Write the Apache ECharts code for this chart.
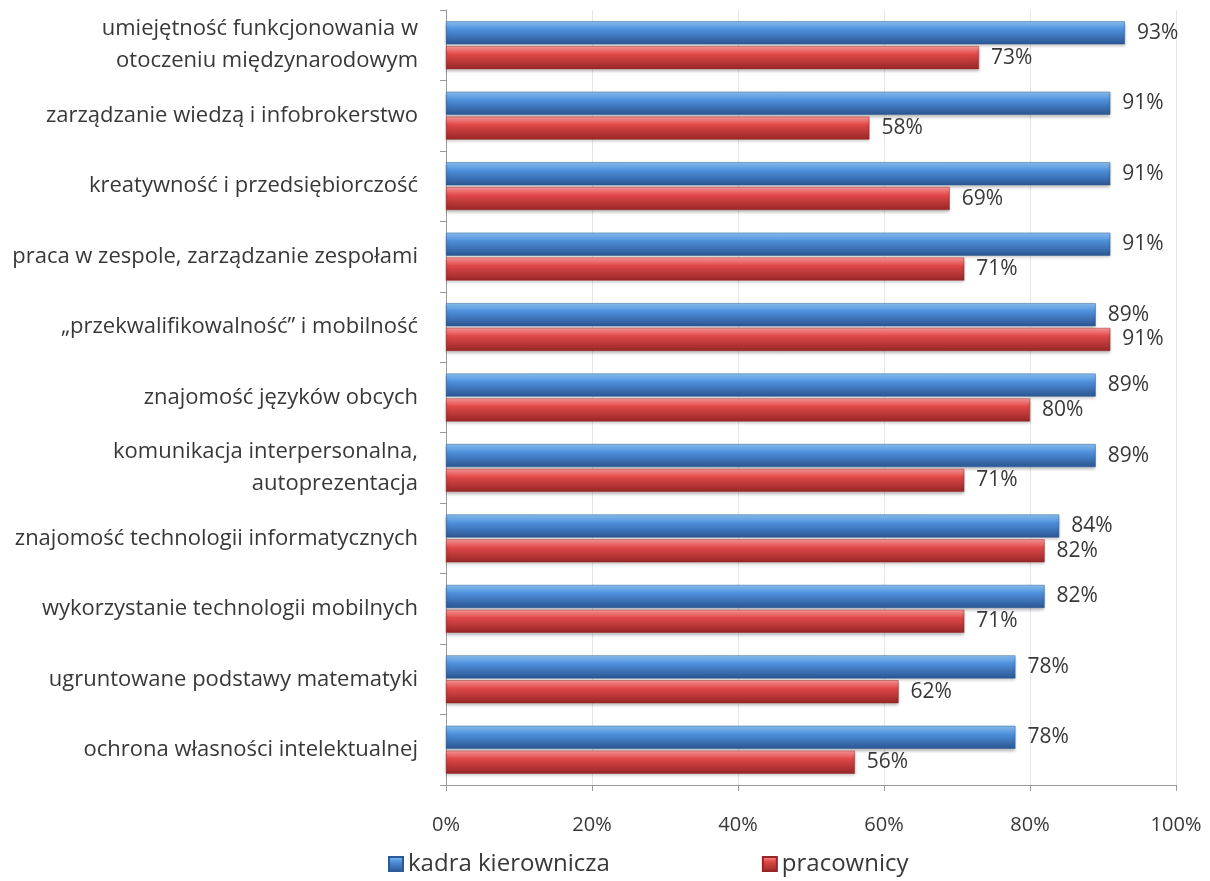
<!DOCTYPE html>
<html><head><meta charset="utf-8">
<script src="https://cdn.jsdelivr.net/npm/echarts@6/dist/echarts.min.js"></script>
<style>html,body{margin:0;padding:0;background:#fff}#c{width:1210px;height:881px}</style>
</head><body><div id="c"></div>
<script>
const categories = [
  "umiejętność funkcjonowania w\notoczeniu międzynarodowym",
  "zarządzanie wiedzą i infobrokerstwo",
  "kreatywność i przedsiębiorczość",
  "praca w zespole, zarządzanie zespołami",
  "„przekwalifikowalność” i mobilność",
  "znajomość języków obcych",
  "komunikacja interpersonalna,\nautoprezentacja",
  "znajomość technologii informatycznych",
  "wykorzystanie technologii mobilnych",
  "ugruntowane podstawy matematyki",
  "ochrona własności intelektualnej"
];
const kadra = [93, 91, 91, 91, 89, 89, 89, 84, 82, 78, 78];
const pracownicy = [73, 58, 69, 71, 91, 80, 71, 82, 71, 62, 56];
const seriesNames = ["kadra kierownicza", "pracownicy"];

const FONT = "Open Sans";
const TXT = '#383838';
const grad = (a, b, c) => new echarts.graphic.LinearGradient(0, 0, 0, 1, [
  {offset: 0, color: a}, {offset: 0.35, color: b}, {offset: 1, color: c}]);
const chart = echarts.init(document.getElementById('c'));
const lbl = {show: true, position: 'right', distance: 12, formatter: '{c}%',
  fontFamily: FONT, fontSize: 21, color: TXT};
chart.setOption({
  animation: false,
  grid: {left: 446, right: 34, top: 10, bottom: 96},
  xAxis: {type: 'value', min: 0, max: 100, interval: 20,
    axisLine: {show: true, lineStyle: {color: '#9a9a9a'}},
    axisTick: {show: true, length: 6, lineStyle: {color: '#9a9a9a'}},
    splitLine: {show: true, lineStyle: {color: '#e6e6e6'}},
    axisLabel: {formatter: '{value}%', fontFamily: FONT, fontSize: 20, color: TXT, margin: 30}},
  yAxis: {type: 'category', data: categories, inverse: true,
    axisLine: {show: true, lineStyle: {color: '#9a9a9a'}},
    axisTick: {show: true, length: 6, lineStyle: {color: '#9a9a9a'}},
    axisLabel: {fontFamily: FONT, fontSize: 22, color: TXT, margin: 28, lineHeight: 32, align: 'right'}},
  legend: {bottom: 0, left: 383, itemGap: 152, itemWidth: 14, itemHeight: 14, icon: 'rect',
    textStyle: {fontFamily: FONT, fontSize: 24, color: TXT, padding: [0,0,0,0]},
    data: seriesNames},
  series: [
    {name: seriesNames[0], type: 'bar', data: kadra, barWidth: 23, barGap: '8%', label: lbl,
     itemStyle: {color: grad('#8cc4f5', '#4f90dc', '#2a5592'), borderColor: '#2c5a96', borderWidth: 0.5,
       shadowColor: 'rgba(0,0,0,0.25)', shadowBlur: 3, shadowOffsetY: 2}},
    {name: seriesNames[1], type: 'bar', data: pracownicy, barWidth: 23, barGap: '8%', label: lbl,
     itemStyle: {color: grad('#ff9a9a', '#e04848', '#962626'), borderColor: '#962626', borderWidth: 0.5,
       shadowColor: 'rgba(0,0,0,0.25)', shadowBlur: 3, shadowOffsetY: 2}}
  ]
});
</script></body></html>
